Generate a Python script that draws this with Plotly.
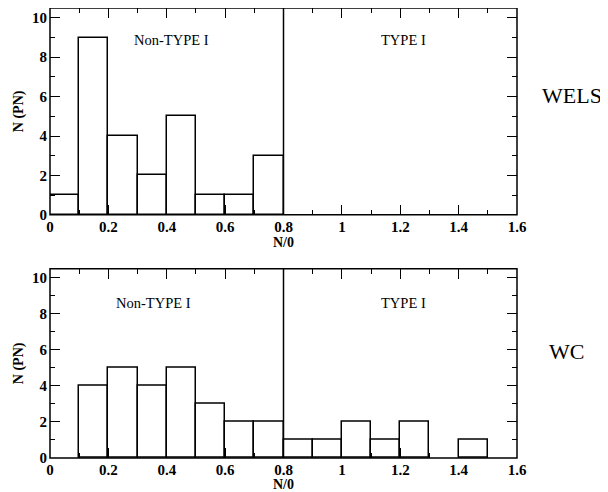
import plotly.graph_objects as go

bin_left = [0.0, 0.1, 0.2, 0.3, 0.4, 0.5, 0.6, 0.7, 0.8, 0.9, 1.0, 1.1, 1.2, 1.3, 1.4, 1.5]
wels_counts = [1, 9, 4, 2, 5, 1, 1, 3, 0, 0, 0, 0, 0, 0, 0, 0]
wc_counts = [0, 4, 5, 4, 5, 3, 2, 2, 1, 1, 2, 1, 2, 0, 1, 0]
bin_width = 0.1
divider = 0.8
panel_names = ["WELS", "WC"]

FONT = "Liberation Serif"
centers = [b + bin_width / 2 for b in bin_left]

# page has an 8px body margin; figure sized to fit the window
OFF = 8
W, H = 600, 484

fig = go.Figure()

def add_bars(counts, xa, ya):
    xs = [c for c, v in zip(centers, counts) if v > 0]
    ys = [v for v in counts if v > 0]
    fig.add_trace(go.Bar(x=xs, y=ys, width=bin_width, xaxis=xa, yaxis=ya,
                         marker=dict(color="white", line=dict(color="black", width=1.5)),
                         showlegend=False, hoverinfo="skip", cliponaxis=False))

add_bars(wels_counts, "x", "y")
add_bars(wc_counts, "x2", "y2")

# page-pixel geometry of the reference
L_pg, R_pg, T_pg, B_pg = 50, 517, 7.5, 458.5
top_bottom_pg, bot_top_pg = 215, 269

ML = L_pg - OFF
MR = W - (R_pg - OFF)
MT = max(T_pg - OFF, 0)
MB = H - (B_pg - OFF)
PW = W - ML - MR
PH = H - MT - MB

def px2paper_x(xp):
    return (xp - OFF - ML) / PW

def px2paper_y(yp):
    return 1 - (yp - OFF - MT) / PH

dom_top = [px2paper_y(top_bottom_pg), 1]
dom_bot = [0, px2paper_y(bot_top_pg)]

tick_font = dict(family=FONT, size=15, color="black", weight="bold")
title_font = dict(family=FONT, size=14, color="black", weight="bold")

def xaxis(anchor):
    return dict(domain=[0, 1], anchor=anchor, range=[0, 1.6], dtick=0.2, tick0=0,
                ticks="inside", ticklen=10, tickwidth=1.3, tickcolor="black",
                minor=dict(ticks="inside", dtick=0.1, ticklen=5, tickwidth=1.3, tickcolor="black"),
                showline=False, mirror="ticks",
                showgrid=False, zeroline=False, automargin=False,
                tickfont=tick_font, ticklabelstandoff=1,
                title=dict(text="N/0", font=title_font, standoff=0))

def yaxis(anchor, dom):
    return dict(domain=dom, anchor=anchor, range=[0, 10.5], dtick=2, tick0=0,
                ticks="inside", ticklen=10, tickwidth=1.3, tickcolor="black",
                minor=dict(ticks="inside", dtick=1, ticklen=5, tickwidth=1.3, tickcolor="black"),
                showline=False, mirror="ticks",
                showgrid=False, zeroline=False, automargin=False,
                tickfont=tick_font, ticklabelstandoff=2,
                title=dict(text="N (PN)", font=title_font, standoff=5))

fig.update_layout(
    width=W, height=H, margin=dict(l=ML, r=MR, t=MT, b=MB, pad=0),
    paper_bgcolor="white", plot_bgcolor="white", bargap=0,
    xaxis=xaxis("y"), yaxis=yaxis("x", dom_top),
    xaxis2=xaxis("y2"), yaxis2=yaxis("x2", dom_bot),
)

# frames and divider lines
for xr, yr in [("x", "y"), ("x2", "y2")]:
    fig.add_shape(type="rect", xref=f"{xr} domain", yref=f"{yr} domain", x0=0, x1=1, y0=0, y1=1,
                  line=dict(color="black", width=1.5), layer="above")
    fig.add_shape(type="line", xref=xr, yref=f"{yr} domain", x0=divider, x1=divider, y0=0, y1=1,
                  line=dict(color="black", width=1.5))

ann_font = dict(family=FONT, size=14.5, color="black")
fig.add_annotation(xref="x", yref="y", x=0.415, y=8.9, text="Non-TYPE I", showarrow=False, font=ann_font)
fig.add_annotation(xref="x", yref="y", x=1.21, y=8.9, text="TYPE I", showarrow=False, font=ann_font)
fig.add_annotation(xref="x2", yref="y2", x=0.355, y=8.6, text="Non-TYPE I", showarrow=False, font=ann_font)
fig.add_annotation(xref="x2", yref="y2", x=1.21, y=8.6, text="TYPE I", showarrow=False, font=ann_font)

side_font = dict(family=FONT, size=22, color="black")
fig.add_annotation(xref="paper", yref="paper", x=px2paper_x(572), y=px2paper_y(96),
                   xanchor="center", yanchor="middle",
                   text=panel_names[0], showarrow=False, font=side_font)
fig.add_annotation(xref="paper", yref="paper", x=px2paper_x(566), y=px2paper_y(352),
                   xanchor="center", yanchor="middle",
                   text=panel_names[1], showarrow=False, font=side_font)

fig.write_html("out.html")
